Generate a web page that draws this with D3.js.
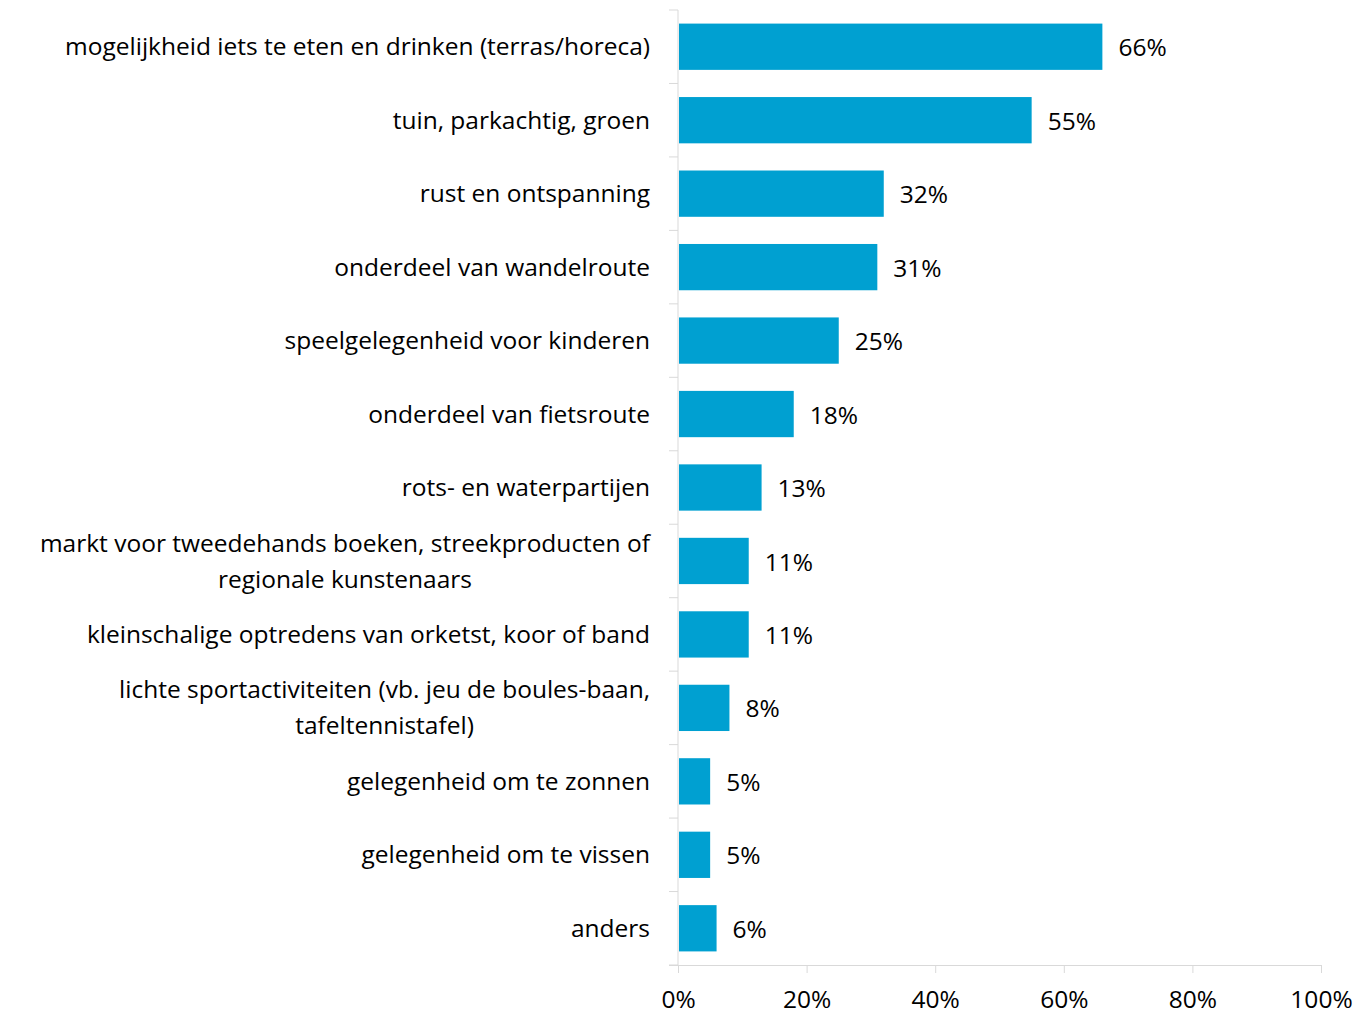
<!DOCTYPE html>
<html>
<head>
<meta charset="utf-8">
<script src="https://cdn.jsdelivr.net/npm/d3@7"></script>
<style>
  body { margin: 0; background: #fff; }
  svg { display: block; }
</style>
</head>
<body>
<div id="chart"></div>
<script>
// categories (each entry is the list of wrapped lines)
var categories = [
  ["mogelijkheid iets te eten en drinken (terras/horeca)"],
  ["tuin, parkachtig, groen"],
  ["rust en ontspanning"],
  ["onderdeel van wandelroute"],
  ["speelgelegenheid voor kinderen"],
  ["onderdeel van fietsroute"],
  ["rots- en waterpartijen"],
  ["markt voor tweedehands boeken, streekproducten of", "regionale kunstenaars"],
  ["kleinschalige optredens van orketst, koor of band"],
  ["lichte sportactiviteiten (vb. jeu de boules-baan,", "tafeltennistafel)"],
  ["gelegenheid om te zonnen"],
  ["gelegenheid om te vissen"],
  ["anders"]
];
var values = [66, 55, 32, 31, 25, 18, 13, 11, 11, 8, 5, 5, 6];
var tickValues = [0, 20, 40, 60, 80, 100];

var width = 1356, height = 1015;
var margin = {top: 10, right: 35, bottom: 50, left: 678};
var font = "'Open Sans', sans-serif";
var fontsize = 24.5;
var barColor = "#00a0d1";
var axisColor = "#d9d9d9";
var textColor = "#000000";

var svg = d3.select("#chart").append("svg")
  .attr("width", width)
  .attr("height", height);

var x = d3.scaleLinear()
  .domain([0, 100])
  .range([margin.left, width - margin.right]);

var y = d3.scaleBand()
  .domain(d3.range(categories.length))
  .range([margin.top, height - margin.bottom])
  .paddingInner(0.37)
  .paddingOuter(0.185);

// bars
svg.selectAll("rect.bar")
  .data(values)
  .enter()
  .append("rect")
  .attr("class", "bar")
  .attr("x", x(0) + 1)
  .attr("y", (d, i) => y(i))
  .attr("width", d => x(d) - x(0) - 1)
  .attr("height", y.bandwidth())
  .attr("fill", barColor);

// value labels
svg.selectAll("text.val")
  .data(values)
  .enter()
  .append("text")
  .attr("class", "val")
  .attr("x", d => x(d) + 16)
  .attr("y", (d, i) => y(i) + y.bandwidth() / 2 + 1)
  .attr("dy", "0.35em")
  .style("font-family", font)
  .style("font-size", fontsize + "px")
  .style("fill", textColor)
  .text(d => d + "%");

// vertical axis line + category ticks
var y0 = margin.top, y1 = height - margin.bottom;
svg.append("line")
  .attr("x1", x(0)).attr("x2", x(0))
  .attr("y1", y0).attr("y2", y1)
  .style("stroke", axisColor)
  .style("stroke-width", 1);

svg.selectAll("line.ytick")
  .data(d3.range(categories.length + 1))
  .enter()
  .append("line")
  .attr("class", "ytick")
  .attr("x1", x(0) - 9).attr("x2", x(0))
  .attr("y1", i => y0 + i * (y1 - y0) / categories.length)
  .attr("y2", i => y0 + i * (y1 - y0) / categories.length)
  .style("stroke", axisColor);

// x axis
var xAxis = svg.append("g")
  .attr("transform", "translate(0," + y1 + ")")
  .call(d3.axisBottom(x).tickValues(tickValues).tickSize(8).tickFormat(d => d + "%"));

xAxis.select(".domain").attr("stroke", axisColor).attr("d", "M" + (x(0) - 9) + ",0.5H" + x(100));
xAxis.selectAll(".tick line").attr("stroke", axisColor);
xAxis.selectAll(".tick text")
  .attr("y", 34)
  .attr("dy", "0.35em")
  .style("font-family", font)
  .style("font-size", fontsize + "px")
  .style("fill", textColor);

// category labels, right aligned, wrapped lines centred within the block
var labelRight = x(0) - 28;
var lineH = 36;
categories.forEach(function(lines, i) {
  var g = svg.append("g");
  var cy = y(i) + y.bandwidth() / 2;
  var texts = lines.map(function(line, j) {
    return g.append("text")
      .attr("y", cy + (j - (lines.length - 1) / 2) * lineH)
      .attr("dy", "0.35em")
      .style("font-family", font)
      .style("font-size", fontsize + "px")
      .style("fill", textColor)
      .text(line);
  });
  var maxW = d3.max(texts, t => t.node().getComputedTextLength());
  texts.forEach(function(t) {
    t.attr("x", labelRight - maxW / 2).attr("text-anchor", "middle");
  });
});
</script>
</body>
</html>
